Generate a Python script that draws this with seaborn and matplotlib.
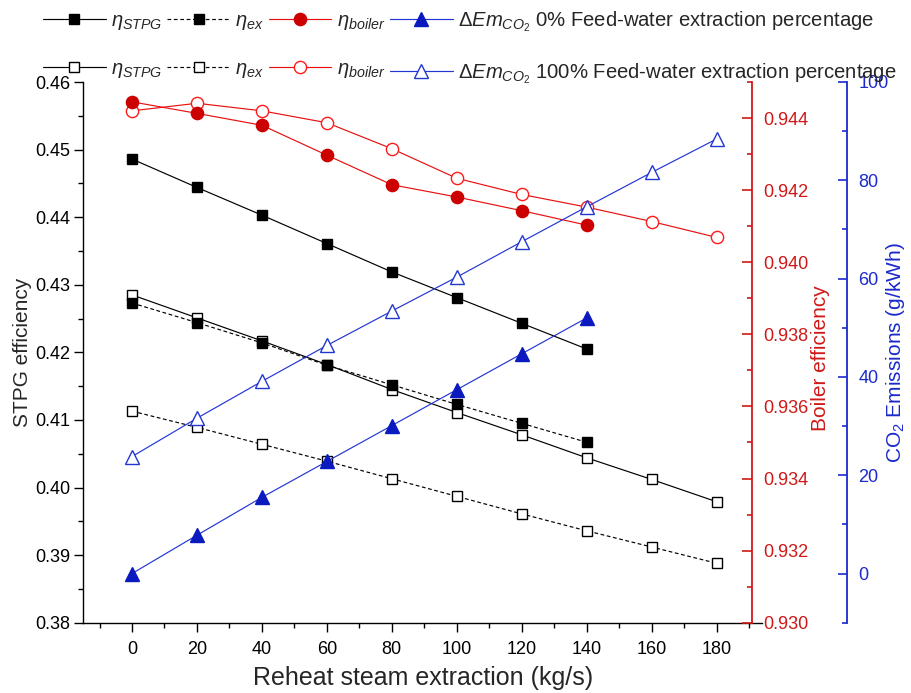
import matplotlib
matplotlib.use("Agg")
import matplotlib.pyplot as plt
from matplotlib.ticker import MultipleLocator, FormatStrFormatter
import pandas as pd
import seaborn as sns

# ---------------- data ----------------
x_0 = [0, 20, 40, 60, 80, 100, 120, 140]
x_100 = [0, 20, 40, 60, 80, 100, 120, 140, 160, 180]

stpg_0 = [0.4486, 0.4444, 0.4403, 0.4361, 0.4319, 0.4281, 0.4243, 0.4205]
ex_0 = [0.4273, 0.4244, 0.4214, 0.4181, 0.4152, 0.4123, 0.4095, 0.4067]
stpg_100 = [0.4285, 0.4251, 0.4217, 0.4182, 0.4145, 0.4111, 0.4078, 0.4044, 0.4012, 0.3979]
ex_100 = [0.4113, 0.4089, 0.4064, 0.4039, 0.4013, 0.3987, 0.3961, 0.3936, 0.3912, 0.3888]

boiler_0 = [0.94445, 0.94413, 0.94380, 0.94297, 0.94215, 0.94181, 0.94143, 0.94103]
boiler_100 = [0.94420, 0.94441, 0.94420, 0.94387, 0.94315, 0.94233, 0.94188, 0.94153, 0.94113, 0.94069]

co2_0 = [0.0, 7.8, 15.5, 22.8, 30.1, 37.4, 44.7, 52.0]
co2_100 = [23.8, 31.6, 39.1, 46.4, 53.4, 60.3, 67.5, 74.6, 81.6, 88.4]

x_label = "Reheat steam extraction (kg/s)"
y_left_label = "STPG efficiency"
y_red_label = "Boiler efficiency"
y_blue_label = "CO$_2$ Emissions (g/kWh)"
leg_0 = "0% Feed-water extraction percentage"
leg_100 = "100% Feed-water extraction percentage"

# ---------------- style ----------------
sns.set_theme(style="ticks")
plt.rcParams["font.family"] = ["Liberation Sans", "DejaVu Sans"]
plt.rcParams["mathtext.fontset"] = "custom"
plt.rcParams["mathtext.rm"] = "Liberation Sans"
plt.rcParams["mathtext.it"] = "Liberation Sans:italic"
plt.rcParams["mathtext.bf"] = "Liberation Sans:bold"
plt.rcParams["mathtext.sf"] = "Liberation Sans"

RED_AX = "#D01818"
RED_FILL = "#CC0000"
RED_LINE = "#E81010"
BLUE_AX = "#1A2ACC"
BLUE_FILL = "#0A1ABF"
BLUE_LINE = "#2236D4"

fig = plt.figure(figsize=(9.11, 6.93), dpi=100)
ax = fig.add_axes([83.3 / 911, 1 - 622.7 / 693, (762 - 83.3) / 911, (622.7 - 82) / 693])
ax2 = ax.twinx()
ax3 = ax.twinx()

lw = 0.85
dash = (0, (3.2, 2.2))

df0 = pd.DataFrame({"x": x_0, "stpg": stpg_0, "ex": ex_0, "boiler": boiler_0, "co2": co2_0})
df100 = pd.DataFrame({"x": x_100, "stpg": stpg_100, "ex": ex_100, "boiler": boiler_100, "co2": co2_100})

common = dict(x="x", legend=False, markeredgewidth=1.0)

# 100% series (open markers) first
sns.lineplot(data=df100, y="stpg", ax=ax, color="black", lw=lw, marker="s", ms=7.8,
             mfc="white", mec="black", **common)
h_stpg100 = ax.lines[-1]
sns.lineplot(data=df100, y="ex", ax=ax, color="black", lw=lw, ls=dash, marker="s", ms=7.8,
             mfc="white", mec="black", **common)
h_ex100 = ax.lines[-1]
sns.lineplot(data=df0, y="stpg", ax=ax, color="black", lw=lw, marker="s", ms=7.8,
             mfc="black", mec="black", **common)
h_stpg0 = ax.lines[-1]
sns.lineplot(data=df0, y="ex", ax=ax, color="black", lw=lw, ls=dash, marker="s", ms=7.8,
             mfc="black", mec="black", **common)
h_ex0 = ax.lines[-1]

sns.lineplot(data=df100, y="boiler", ax=ax2, color=RED_LINE, lw=lw, marker="o", ms=8.8,
             mfc="white", mec="#FF1A1A", **common)
h_b100 = ax2.lines[-1]
sns.lineplot(data=df0, y="boiler", ax=ax2, color=RED_LINE, lw=lw, marker="o", ms=8.8,
             mfc=RED_FILL, mec=RED_FILL, **common)
h_b0 = ax2.lines[-1]

sns.lineplot(data=df100, y="co2", ax=ax3, color=BLUE_LINE, lw=lw, marker="^", ms=9.5,
             mfc="white", mec=BLUE_LINE, **common)
h_c100 = ax3.lines[-1]
sns.lineplot(data=df0, y="co2", ax=ax3, color=BLUE_LINE, lw=lw, marker="^", ms=9.5,
             mfc=BLUE_FILL, mec=BLUE_FILL, **common)
h_c0 = ax3.lines[-1]

# ---------------- axes ----------------
ax.set_xlim(-15, 194)
ax.set_ylim(0.38, 0.46)
ax2.set_ylim(0.930, 0.945)
ax3.set_ylim(-10, 100)

ax.xaxis.set_major_locator(MultipleLocator(20))
ax.xaxis.set_minor_locator(MultipleLocator(10))
ax.yaxis.set_major_locator(MultipleLocator(0.01))
ax.yaxis.set_minor_locator(MultipleLocator(0.005))
ax.yaxis.set_major_formatter(FormatStrFormatter("%.2f"))
ax2.yaxis.set_major_locator(MultipleLocator(0.002))
ax2.yaxis.set_minor_locator(MultipleLocator(0.001))
ax2.yaxis.set_major_formatter(FormatStrFormatter("%.3f"))
ax3.yaxis.set_major_locator(MultipleLocator(20))
ax3.yaxis.set_minor_locator(MultipleLocator(10))

for s in ["top", "right"]:
    ax.spines[s].set_visible(False)
for a in (ax2, ax3):
    for s in ["top", "left", "bottom"]:
        a.spines[s].set_visible(False)
ax2.spines["right"].set_position(("axes", (751.7 - 83.3) / (762 - 83.3)))
ax3.spines["right"].set_position(("axes", (846.7 - 83.3) / (762 - 83.3)))

for sp in ax.spines.values():
    sp.set_linewidth(1.0)
    sp.set_color("black")
ax2.spines["right"].set_color(RED_AX)
ax2.spines["right"].set_linewidth(1.3)
ax3.spines["right"].set_color(BLUE_AX)
ax3.spines["right"].set_linewidth(1.3)

ax.tick_params(axis="x", which="major", direction="out", length=6.5, width=1.0,
               labelsize=13, colors="black", pad=6.5)
ax.tick_params(axis="y", which="major", direction="out", length=6.5, width=1.0,
               labelsize=13, colors="black", pad=3)
ax.tick_params(axis="both", which="minor", direction="out", length=3.3, width=1.0, colors="black")
ax2.tick_params(axis="y", which="major", direction="in", length=7, width=1.2, colors=RED_AX,
                labelsize=13, pad=8.4)
ax2.tick_params(axis="y", which="minor", direction="in", length=3.5, width=1.2, colors=RED_AX)
ax3.tick_params(axis="y", which="major", direction="in", length=6.5, width=1.2, colors=BLUE_AX,
                labelsize=13, pad=8.4)
ax3.tick_params(axis="y", which="minor", direction="in", length=3.3, width=1.2, colors=BLUE_AX)

ax.set_xlabel(x_label, fontsize=18, labelpad=6)
ax.set_ylabel(y_left_label, fontsize=15)
ax.yaxis.set_label_coords(-0.075, 0.5)
ax2.set_ylabel(y_red_label, fontsize=15, color=RED_AX)
ax2.yaxis.set_label_coords(1.072, 0.49)
ax3.set_ylabel(y_blue_label, fontsize=15, color=BLUE_AX)
ax3.yaxis.set_label_coords(1.18, 0.5)
ax.grid(False); ax2.grid(False); ax3.grid(False)

# ---------------- legend ----------------
handles = [h_stpg0, h_stpg100, h_ex0, h_ex100, h_b0, h_b100, h_c0, h_c100]
labels = [r"$\eta_{STPG}$", r"$\eta_{STPG}$", r"$\eta_{ex}$", r"$\eta_{ex}$",
          r"$\eta_{boiler}$", r"$\eta_{boiler}$",
          r"$\mathit{\Delta}Em_{CO_2}$ " + leg_0, r"$\mathit{\Delta}Em_{CO_2}$ " + leg_100]
fig.legend(handles, labels, loc="upper left", bbox_to_anchor=(43 / 911, 1 - 9 / 693),
           ncol=4, frameon=False, fontsize=14.6, handlelength=3.1, handletextpad=0.27,
           columnspacing=0.22, labelspacing=1.35, borderpad=0, borderaxespad=0)

fig.savefig("out.png", dpi=100)
